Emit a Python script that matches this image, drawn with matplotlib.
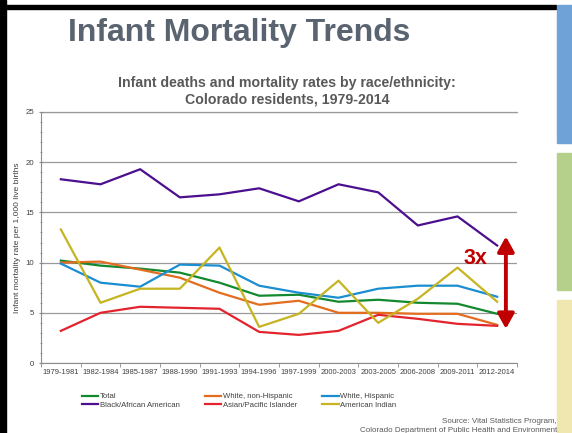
import numpy as np
import matplotlib.pyplot as plt
from matplotlib.patches import Rectangle
from matplotlib.ticker import MultipleLocator

plt.rcParams['font.family'] = ['Liberation Sans', 'DejaVu Sans']

periods = ["1979-1981", "1982-1984", "1985-1987", "1988-1990", "1991-1993", "1994-1996",
           "1997-1999", "2000-2003", "2003-2005", "2006-2008", "2009-2011", "2012-2014"]

total = [10.2, 9.7, 9.4, 9.0, 8.0, 6.7, 6.8, 6.1, 6.3, 6.0, 5.9, 4.9]
white_non_hisp = [10.0, 10.1, 9.3, 8.5, 7.0, 5.8, 6.2, 5.0, 5.0, 4.9, 4.9, 3.8]
white_hisp = [9.9, 8.0, 7.6, 9.8, 9.7, 7.7, 7.0, 6.5, 7.4, 7.7, 7.7, 6.6]
black = [18.3, 17.8, 19.3, 16.5, 16.8, 17.4, 16.1, 17.8, 17.0, 13.7, 14.6, 11.7]
asian = [3.2, 5.0, 5.6, 5.5, 5.4, 3.1, 2.8, 3.2, 4.8, 4.4, 3.9, 3.7]
am_indian = [13.3, 6.0, 7.4, 7.4, 11.5, 3.6, 4.9, 8.2, 4.0, 6.4, 9.5, 6.1]

series = [
    ("Total", total, "#13892f"),
    ("White, non-Hispanic", white_non_hisp, "#e46c1e"),
    ("White, Hispanic", white_hisp, "#1a8ed0"),
    ("Black/African American", black, "#4b0f8f"),
    ("Asian/Pacific Islander", asian, "#e3232e"),
    ("American Indian", am_indian, "#c6b420"),
]

fig = plt.figure(figsize=(5.72, 4.33), dpi=100)
fig.patch.set_facecolor("white")

# slide frame: black border on left and top, coloured bars on the right
fig.add_artist(Rectangle((0, 0), 6 / 572, 1, transform=fig.transFigure, color="black"))
fig.add_artist(Rectangle((0, 1 - 9 / 433), 556 / 572, 4 / 433, transform=fig.transFigure, color="black"))
fig.add_artist(Rectangle((557 / 572, 1 - 143 / 433), 15 / 572, 138 / 433,
                         transform=fig.transFigure, color="#6fa3d8"))
fig.add_artist(Rectangle((557 / 572, 1 - 290 / 433), 15 / 572, 137 / 433,
                         transform=fig.transFigure, color="#b5d08a"))
fig.add_artist(Rectangle((557 / 572, 0), 15 / 572, 133 / 433,
                         transform=fig.transFigure, color="#efe6b0"))

fig.text(68 / 572, 1 - 33 / 433, "Infant Mortality Trends", fontsize=23, fontweight="bold",
         color="#5a6470", va="center", ha="left")
fig.text(287 / 572, 1 - 91 / 433,
         "Infant deaths and mortality rates by race/ethnicity:\nColorado residents, 1979-2014",
         fontsize=10.2, fontweight="bold", color="#595959", ha="center", va="center",
         linespacing=1.25)

ax = fig.add_axes([41 / 572, 1 - 363 / 433, 476 / 572, 251 / 433])
x = np.arange(len(periods))
for name, vals, col in series:
    ax.plot(x, vals, color=col, lw=1.6, label=name)

ax.set_xlim(-0.5, len(periods) - 0.5)
ax.set_ylim(0, 25)
ax.set_xticks(x)
ax.set_xticklabels(periods, fontsize=5.5, color="#404040")
ax.set_xticks(np.arange(-0.5, len(periods), 1), minor=True)
ax.tick_params(axis="x", which="major", length=0, pad=4)
ax.tick_params(axis="x", which="minor", length=3, color="#8c8c8c")
ax.yaxis.set_major_locator(MultipleLocator(5))
ax.yaxis.set_minor_locator(MultipleLocator(1))
ax.tick_params(axis="y", which="major", labelsize=5.6, labelcolor="#404040", length=3,
               color="#8c8c8c", direction="inout")
ax.tick_params(axis="y", which="minor", length=2, color="#8c8c8c", direction="inout")
ax.grid(axis="y", which="major", color="#9a9a9a", lw=0.9)
ax.axhline(25, color="#9a9a9a", lw=0.9, clip_on=False, zorder=0)
ax.set_axisbelow(True)
for s in ["top", "right"]:
    ax.spines[s].set_visible(False)
for s in ["left", "bottom"]:
    ax.spines[s].set_color("#8c8c8c")
ax.set_ylabel("Infant mortality rate per 1,000 live births", fontsize=6.1, color="#404040",
              labelpad=3)

# ratio between black and asian rates at the last period
last = len(periods) - 1
ax.annotate("", xy=(last + 0.22, asian[-1] - 0.3), xytext=(last + 0.22, black[-1] + 0.9),
            arrowprops=dict(arrowstyle="<|-|>,head_length=0.9,head_width=0.5",
                            color="#c00000", lw=2.8, shrinkA=0, shrinkB=0))
ax.text(last - 0.55, 10.4, "3x", color="#c00000", fontsize=15.5, fontweight="bold",
        ha="center", va="center")

handles, labels = ax.get_legend_handles_labels()
order = [0, 3, 1, 4, 2, 5]
fig.legend([handles[i] for i in order], [labels[i] for i in order], ncol=3,
           loc="center left", bbox_to_anchor=(82 / 572, 1 - 401 / 433), frameon=False,
           fontsize=5.6, handlelength=2.1, handletextpad=0.15, columnspacing=3.3,
           labelspacing=0.15, labelcolor="#404040", borderpad=0, borderaxespad=0)

fig.text(557 / 572, 1 - 426 / 433,
         "Source: Vital Statistics Program,\nColorado Department of Public Health and Environment",
         fontsize=5.8, color="#595959", ha="right", va="center", linespacing=1.3)

fig.savefig("out.png", dpi=100)
